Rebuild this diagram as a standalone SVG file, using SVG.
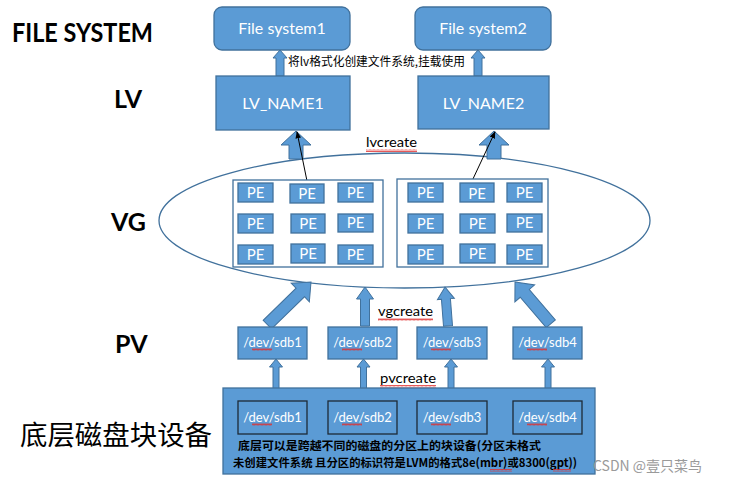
<svg xmlns="http://www.w3.org/2000/svg" width="745" height="484" viewBox="0 0 745 484">
<defs>
<style>
.blue{fill:#5b9bd5;stroke:#41719c;stroke-width:1.3}
.arr{fill:#5b9bd5;stroke:#41719c;stroke-width:1}
.wt{fill:#fff;font-family:Lato,"Liberation Sans",sans-serif;text-anchor:middle}
.big{font-family:Lato,"Liberation Sans",sans-serif;font-weight:bold;fill:#000}
.lbl{font-family:Lato,"Liberation Sans",sans-serif;fill:#000;font-size:14px}
.cjk{font-family:"Noto Sans CJK SC",sans-serif;fill:#000}
.pebox{fill:#fff;stroke:#41719c;stroke-width:1.3}
.pe{fill:#5b9bd5;stroke:#41719c;stroke-width:1.3}
.wavy{fill:url(#wv)}
</style>
<pattern id="wv" width="4" height="3" patternUnits="userSpaceOnUse">
<polyline points="0,2.5 1,0.5 2,2.5 3,0.5 4,2.5" fill="none" stroke="#e03030" stroke-width="0.8"/>
</pattern>
<marker id="ah" viewBox="0 0 10 10" refX="9" refY="5" markerWidth="7" markerHeight="7" orient="auto">
<path d="M0,1 L10,5 L0,9 Z" fill="#000"/>
</marker>
</defs>
<rect width="745" height="484" fill="#fff"/>

<!-- level labels -->
<text class="big" x="12" y="42" font-size="26" textLength="141" lengthAdjust="spacingAndGlyphs">FILE SYSTEM</text>
<text class="big" x="114" y="108" font-size="25">LV</text>
<text class="big" x="111" y="231" font-size="25">VG</text>
<text class="big" x="115" y="353" font-size="25">PV</text>
<text class="cjk" x="20" y="445" font-size="27" textLength="192" lengthAdjust="spacingAndGlyphs">底层磁盘块设备</text>

<!-- VG ellipse -->
<g id="vg">
<ellipse cx="404.5" cy="220.5" rx="245.5" ry="67.5" fill="#fff" stroke="#41719c" stroke-width="1.3"/>
</g>

<!-- connectors -->
<g id="connectors">
<path class="arr" d="M280,50 L287,58 L284,58 L284,76 L276,76 L276,58 L273,58 Z"/>
<path class="arr" d="M478,50 L485,58 L482,58 L482,76 L474,76 L474,58 L471,58 Z"/>
<path class="arr" d="M296,131 L311,145 L303,145 L303,159 L289,159 L289,145 L281,145 Z"/>
<path class="arr" d="M494,131 L509,145 L501,145 L501,159 L487,159 L487,145 L479,145 Z"/>
<line x1="307" y1="181" x2="297" y2="132" stroke="#000" stroke-width="1" marker-end="url(#ah)"/>
<line x1="472" y1="181" x2="495" y2="132" stroke="#000" stroke-width="1" marker-end="url(#ah)"/>
<path class="arr" transform="translate(311,282) rotate(45.7)" d="M0,0 L13,15 L6,15 L6,61 L-6,61 L-6,15 L-13,15 Z"/>
<path class="arr" transform="translate(365,287)" d="M0,0 L8.5,12 L4.5,12 L4.5,39 L-4.5,39 L-4.5,12 L-8.5,12 Z"/>
<path class="arr" transform="translate(445,287) rotate(-4.4)" d="M0,0 L8.5,12 L4.5,12 L4.5,39 L-4.5,39 L-4.5,12 L-8.5,12 Z"/>
<path class="arr" transform="translate(515,282) rotate(-40.6)" d="M0,0 L13,15 L6,15 L6,55 L-6,55 L-6,15 L-13,15 Z"/>
<path class="arr" transform="translate(276,359)" d="M0,0 L6.5,8 L3,8 L3,30 L-3,30 L-3,8 L-6.5,8 Z"/>
<path class="arr" transform="translate(363.5,359)" d="M0,0 L6.5,8 L3,8 L3,30 L-3,30 L-3,8 L-6.5,8 Z"/>
<path class="arr" transform="translate(451,359)" d="M0,0 L6.5,8 L3,8 L3,30 L-3,30 L-3,8 L-6.5,8 Z"/>
<path class="arr" transform="translate(548,359)" d="M0,0 L6.5,8 L3,8 L3,30 L-3,30 L-3,8 L-6.5,8 Z"/>
<text class="cjk" x="288" y="66" font-size="12" textLength="177" lengthAdjust="spacingAndGlyphs">将lv格式化创建文件系统,挂载使用</text>
<text class="lbl" x="366" y="147" font-size="14" textLength="51" lengthAdjust="spacingAndGlyphs">lvcreate</text>
<rect class="wavy" x="366" y="149" width="51" height="3"/>
<text class="lbl" x="378" y="316" textLength="55" lengthAdjust="spacingAndGlyphs">vgcreate</text>
<rect class="wavy" x="378" y="318" width="55" height="3"/>
<text class="lbl" x="380" y="383" textLength="56" lengthAdjust="spacingAndGlyphs">pvcreate</text>
<rect class="wavy" x="380" y="385" width="56" height="3"/>
</g>

<g id="fs1"><rect class="blue" x="214" y="7" width="136" height="43" rx="8"/><text class="wt" x="282" y="34" font-size="16">File system1</text></g>
<g id="fs2"><rect class="blue" x="415" y="7" width="136" height="43" rx="8"/><text class="wt" x="483" y="34" font-size="16">File system2</text></g>

<g id="lv1"><rect class="blue" x="216" y="76" width="134" height="54"/><text class="wt" x="283" y="109" font-size="16">LV_NAME1</text></g>
<g id="lv2"><rect class="blue" x="418" y="76" width="131" height="53"/><text class="wt" x="483.5" y="109" font-size="16">LV_NAME2</text></g>

<g id="pegroup1">
<rect class="pebox" x="233" y="180" width="150" height="87"/>
<g class="pe">
<rect x="238" y="183" width="35" height="19"/><rect x="290" y="184" width="34" height="19"/><rect x="338" y="183" width="35" height="19"/>
<rect x="238" y="214" width="35" height="19"/><rect x="291" y="214" width="34" height="19"/><rect x="338" y="214" width="35" height="18"/>
<rect x="238" y="245" width="35" height="19"/><rect x="291" y="244" width="34" height="19"/><rect x="338" y="245" width="35" height="19"/>
</g>
<g class="wt" font-size="15">
<text x="255.5" y="198">PE</text><text x="307" y="199">PE</text><text x="355.5" y="198">PE</text>
<text x="255.5" y="229">PE</text><text x="308" y="229">PE</text><text x="355.5" y="228">PE</text>
<text x="255.5" y="260">PE</text><text x="308" y="259">PE</text><text x="355.5" y="260">PE</text>
</g>
</g>
<g id="pegroup2">
<rect class="pebox" x="397" y="179" width="151" height="88"/>
<g class="pe">
<rect x="408" y="183" width="35" height="19"/><rect x="460" y="183" width="34" height="19"/><rect x="507" y="183" width="35" height="19"/>
<rect x="408" y="214" width="35" height="19"/><rect x="460" y="214" width="35" height="19"/><rect x="507" y="214" width="35" height="18"/>
<rect x="408" y="245" width="35" height="19"/><rect x="460" y="244" width="35" height="19"/><rect x="507" y="245" width="35" height="19"/>
</g>
<g class="wt" font-size="15">
<text x="425.5" y="198">PE</text><text x="477" y="199">PE</text><text x="524.5" y="198">PE</text>
<text x="425.5" y="229">PE</text><text x="477.5" y="229">PE</text><text x="524.5" y="228">PE</text>
<text x="425.5" y="260">PE</text><text x="477.5" y="259">PE</text><text x="524.5" y="260">PE</text>
</g>
</g>

<g id="pv1"><rect class="blue" x="238" y="327" width="69" height="32"/><text class="wt" x="272.5" y="347" font-size="13">/dev/sdb1</text><rect class="wavy" x="252" y="348" width="20" height="3"/></g>
<g id="pv2"><rect class="blue" x="328" y="327" width="69" height="32"/><text class="wt" x="362.5" y="347" font-size="13">/dev/sdb2</text><rect class="wavy" x="342" y="348" width="20" height="3"/></g>
<g id="pv3"><rect class="blue" x="417" y="327" width="70" height="32"/><text class="wt" x="452" y="347" font-size="13">/dev/sdb3</text><rect class="wavy" x="431" y="348" width="20" height="3"/></g>
<g id="pv4"><rect class="blue" x="513" y="327" width="69" height="32"/><text class="wt" x="547.5" y="347" font-size="13">/dev/sdb4</text><rect class="wavy" x="527" y="348" width="20" height="3"/></g>

<g id="disk">
<rect class="blue" x="223" y="388" width="372" height="86"/>
<g fill="#5b9bd5" stroke="#1e2a36" stroke-width="1.3">
<rect x="238" y="401" width="69" height="33"/><rect x="328" y="401" width="69" height="33"/>
<rect x="417" y="401" width="70" height="33"/><rect x="513" y="401" width="69" height="33"/>
</g>
<g class="wt" font-size="13">
<text x="272.5" y="422">/dev/sdb1</text><text x="362.5" y="422">/dev/sdb2</text>
<text x="452" y="422">/dev/sdb3</text><text x="547.5" y="422">/dev/sdb4</text>
</g>
<rect class="wavy" x="252" y="423" width="20" height="3"/><rect class="wavy" x="342" y="423" width="20" height="3"/>
<rect class="wavy" x="431" y="423" width="20" height="3"/><rect class="wavy" x="527" y="423" width="20" height="3"/>
<text class="cjk" x="238" y="450" font-size="11.5" font-weight="bold" textLength="303" lengthAdjust="spacingAndGlyphs">底层可以是跨越不同的磁盘的分区上的块设备(分区未格式</text>
<text class="cjk" x="233" y="467" font-size="11.5" font-weight="bold" textLength="344" lengthAdjust="spacingAndGlyphs">未创建文件系统 且分区的标识符是LVM的格式8e(mbr)或8300(gpt))</text>
<rect class="wavy" x="490" y="469" width="22" height="3"/><rect class="wavy" x="553" y="469" width="18" height="3"/>
</g>

<text x="593" y="471" font-family="'Noto Sans CJK SC',sans-serif" font-size="14" fill="#9a9a9a">CSDN @壹只菜鸟</text>
</svg>
